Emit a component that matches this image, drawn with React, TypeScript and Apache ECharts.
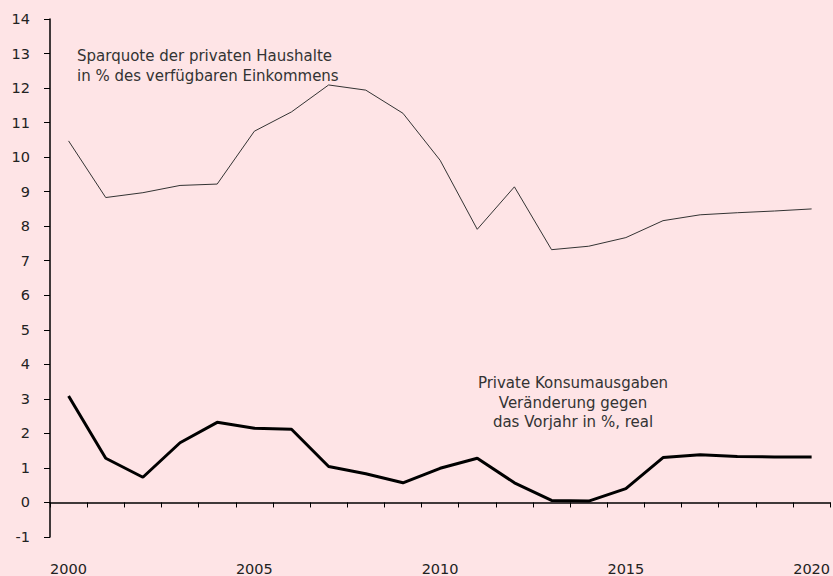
import React, { useEffect, useRef } from "react";
import * as echarts from "echarts";

const years = ["2000","2001","2002","2003","2004","2005","2006","2007","2008","2009","2010","2011","2012","2013","2014","2015","2016","2017","2018","2019","2020"];
const sparquote = [10.47, 8.83, 8.97, 9.18, 9.22, 10.75, 11.31, 12.09, 11.94, 11.27, 9.91, 7.91, 9.14, 7.32, 7.42, 7.67, 8.16, 8.33, 8.39, 8.44, 8.5];
const konsum = [3.08, 1.28, 0.73, 1.73, 2.32, 2.15, 2.12, 1.04, 0.83, 0.57, 0.99, 1.28, 0.57, 0.06, 0.04, 0.4, 1.3, 1.38, 1.33, 1.32, 1.32];
const label1 = ["Sparquote der privaten Haushalte", "in % des verfügbaren Einkommens"];
const label2 = ["Private Konsumausgaben", "Veränderung gegen", "das Vorjahr in %, real"];

const FONT = "DejaVu Sans";

export default function App() {
  const ref = useRef<HTMLDivElement>(null);
  useEffect(() => {
    if (!ref.current) return;
    const chart = echarts.init(ref.current, null, { renderer: "svg" });
    chart.setOption({
      animation: false,
      backgroundColor: "#fee4e6",
      textStyle: { fontFamily: FONT },
      grid: { left: 50, right: 0, top: 19, bottom: 39 },
      xAxis: [
        {
          type: "category",
          data: years,
          boundaryGap: true,
          axisLine: { onZero: true, lineStyle: { color: "#000", width: 1.5 } },
          axisTick: { show: true, interval: 0, length: 5, inside: false, lineStyle: { color: "#000" } },
          axisLabel: { show: false },
          splitLine: { show: false },
        },
        {
          type: "category",
          data: years,
          position: "bottom",
          boundaryGap: true,
          axisLine: { show: false, onZero: false },
          axisTick: { show: false },
          axisLabel: { show: true, interval: 4, color: "#222", fontSize: 14.5, fontFamily: FONT, margin: 24 },
          splitLine: { show: false },
        },
      ],
      yAxis: {
        type: "value",
        min: -1,
        max: 14,
        interval: 1,
        axisLine: { show: true, lineStyle: { color: "#000", width: 1.5 } },
        axisTick: { show: true, length: 6, lineStyle: { color: "#000" } },
        axisLabel: { color: "#222", fontSize: 14.5, fontFamily: FONT, margin: 20 },
        splitLine: { show: false },
      },
      series: [
        {
          type: "line",
          data: sparquote,
          xAxisIndex: 0,
          symbol: "none",
          lineStyle: { color: "#333", width: 1 },
        },
        {
          type: "line",
          data: konsum,
          xAxisIndex: 0,
          symbol: "none",
          lineStyle: { color: "#000", width: 3 },
        },
      ],
      graphic: [
        ...label1.map((t, i) => ({
          type: "text",
          x: 77,
          y: 56 + i * 20,
          style: { text: t, fill: "#333", font: `15px "${FONT}"`, textAlign: "left", textVerticalAlign: "middle" },
        })),
        ...label2.map((t, i) => ({
          type: "text",
          x: 573,
          y: 383 + i * 19.5,
          style: { text: t, fill: "#333", font: `15px "${FONT}"`, textAlign: "center", textVerticalAlign: "middle" },
        })),
      ],
    });
    return () => chart.dispose();
  }, []);
  return <div ref={ref} style={{ position: "fixed", left: 0, top: 0, width: 833, height: 576 }} />;
}
